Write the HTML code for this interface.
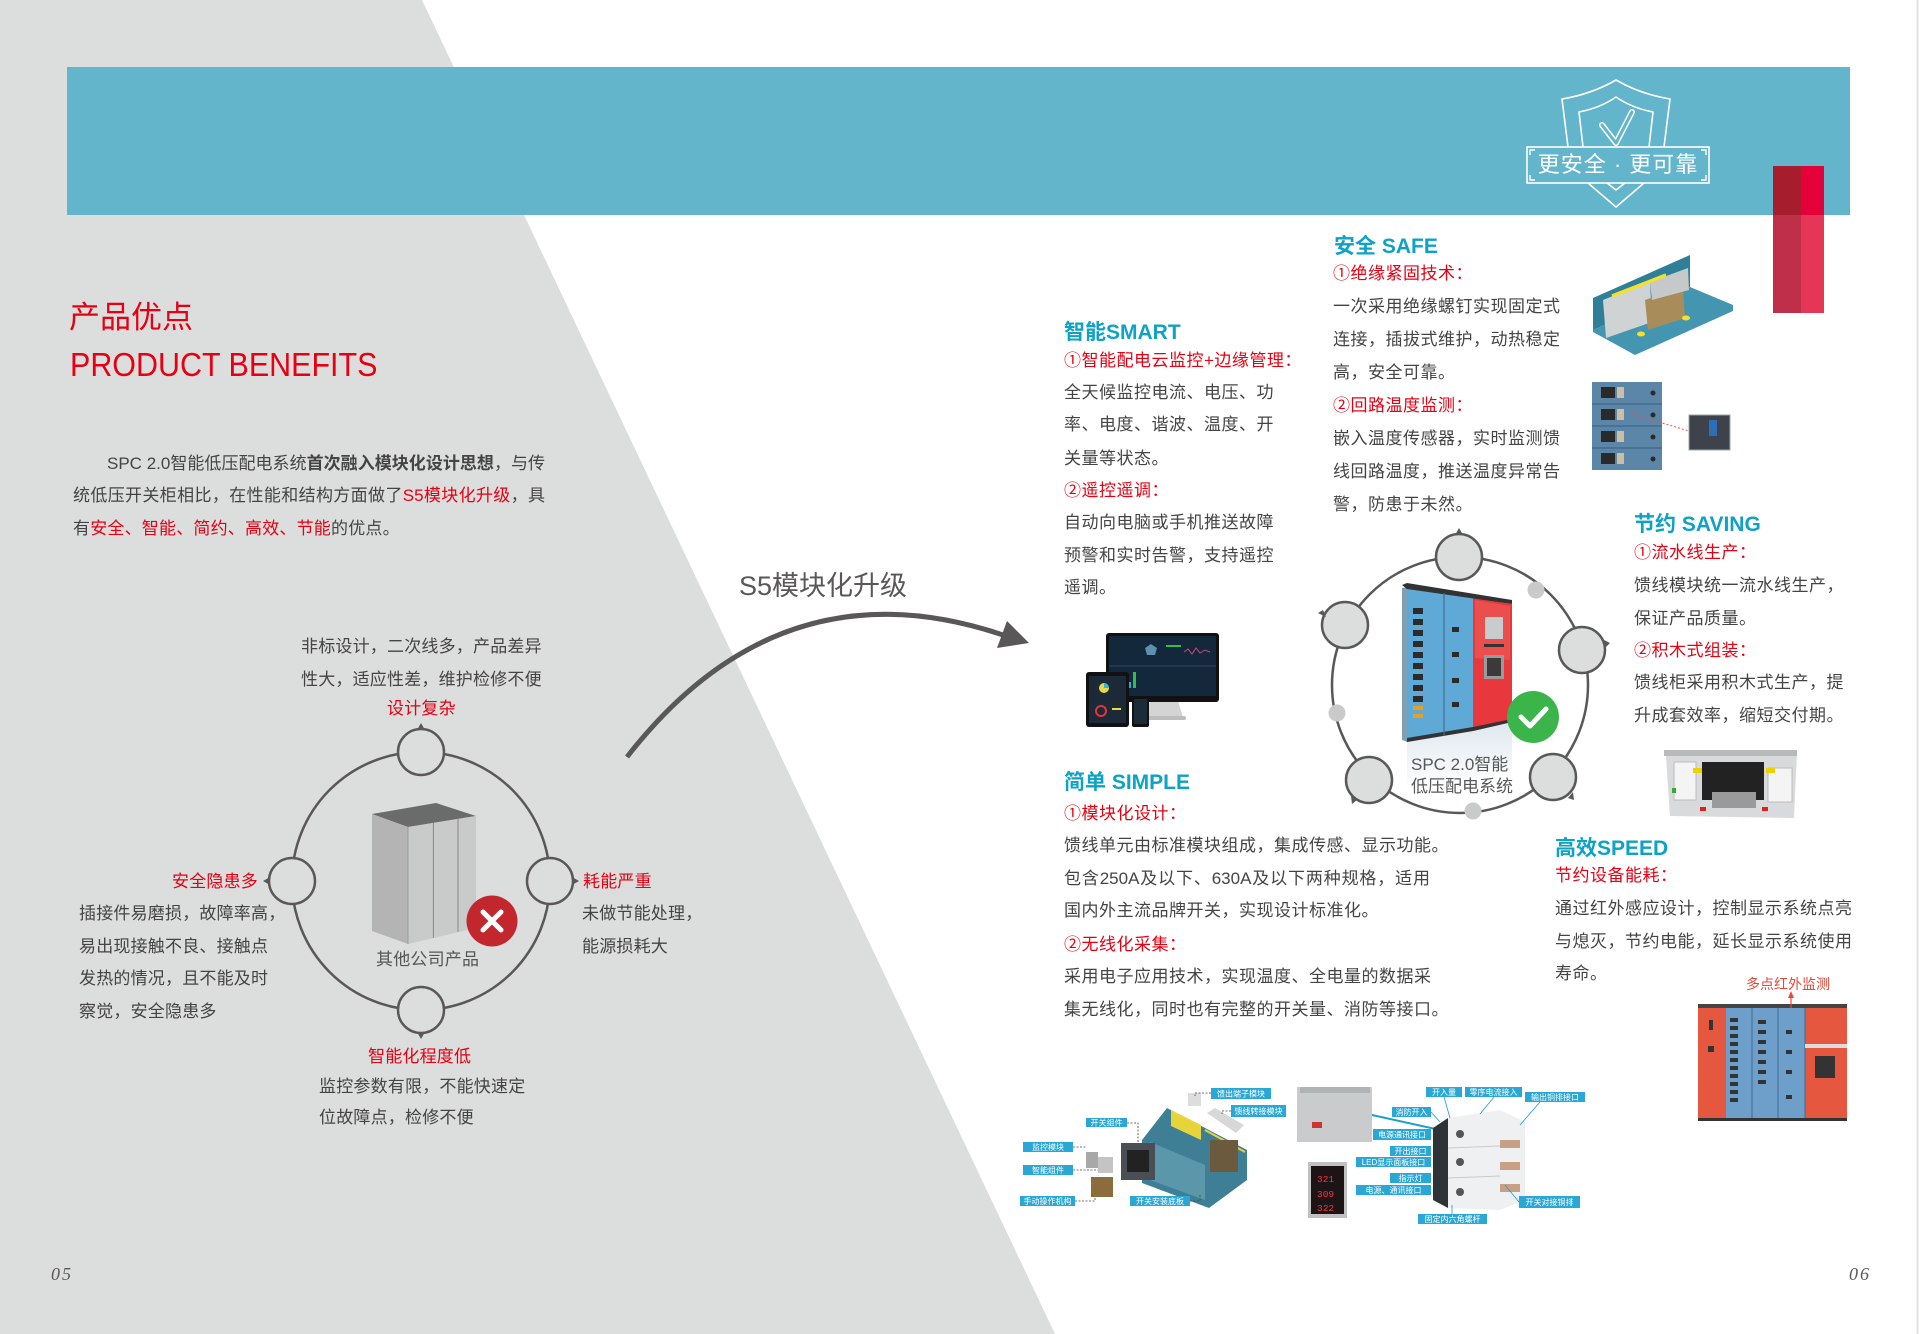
<!DOCTYPE html>
<html><head><meta charset="utf-8">
<style>
html,body{margin:0;padding:0;}
body{width:1920px;height:1334px;position:relative;overflow:hidden;background:#fff;font-family:"Liberation Sans","Noto Sans CJK SC",sans-serif;}
svg{position:absolute;left:0;top:0;}
.t{position:absolute;font-size:17px;line-height:20px;white-space:nowrap;color:#444;letter-spacing:0.5px;}
.l{letter-spacing:0.2px;}
.r{color:#e60012;}
.j{text-align:justify;text-align-last:justify;letter-spacing:0;white-space:normal;}
.h{position:absolute;font-size:21px;line-height:24px;font-weight:bold;color:#0ea2c5;white-space:nowrap;}
</style></head><body>
<svg width="1920" height="1334" viewBox="0 0 1920 1334" xmlns="http://www.w3.org/2000/svg">
<polygon points="0,0 422,0 1055,1334 0,1334" fill="#dcdddd"/>
<line x1="1917.5" y1="0" x2="1917.5" y2="1334" stroke="#e2e2e2" stroke-width="2"/>
<!-- band -->
<rect x="67" y="67" width="1783" height="148" fill="#62b5cb"/>
<!-- red bar -->
<rect x="1773" y="166" width="28" height="49" fill="#a61d2d"/>
<rect x="1801" y="166" width="23" height="49" fill="#e4013a"/>
<rect x="1773" y="215" width="28" height="98" fill="#bf2f49"/>
<rect x="1801" y="215" width="23" height="98" fill="#e53658"/>
<!-- shield -->
<g fill="none" stroke="#fff" stroke-width="1.6" stroke-linejoin="round">
<path d="M1568,147 L1562,99 Q1592,94 1616,80 Q1640,94 1670,99 L1664,147"/>
<polyline points="1588,183 1616,207 1644,183"/>
<path d="M1583,147 L1579,112 Q1600,108 1616,97 Q1632,108 1653,112 L1649,147"/>
<polyline points="1607,183 1616,190 1625,183"/>
</g>
<polyline points="1602,125 1616,143 1632,112" fill="none" stroke="#fff" stroke-width="6" stroke-linejoin="round" stroke-linecap="round"/>
<polyline points="1602,125 1616,143 1632,112" fill="none" stroke="#62b5cb" stroke-width="3" stroke-linejoin="round" stroke-linecap="round"/>
<rect x="1527" y="147" width="182" height="36" fill="#62b5cb" stroke="#fff" stroke-width="1.6"/>
<g fill="none" stroke="#fff" stroke-width="1.4">
<polyline points="1530,155 1530,150 1535,150"/>
<polyline points="1701,150 1706,150 1706,155"/>
<polyline points="1530,175 1530,180 1535,180"/>
<polyline points="1701,180 1706,180 1706,175"/>
</g>
<!-- arrow -->
<path d="M627,757 Q780,560 1003,635" fill="none" stroke="#595757" stroke-width="5"/>
<polygon points="1029,643 1007,621 997,648" fill="#595757"/>
<!-- left diagram -->
<circle cx="421" cy="881" r="129" fill="none" stroke="#595757" stroke-width="2.5"/>
<g fill="#dcdddd" stroke="#595757" stroke-width="2.5">
<circle cx="421" cy="752" r="23"/><circle cx="292" cy="881" r="23"/>
<circle cx="550" cy="881" r="23"/><circle cx="421" cy="1010" r="23"/>
</g>
<g fill="#595757">
<polygon points="417,730 425,730 421,723"/>
<polygon points="270,877 270,885 263,881"/>
<polygon points="572,877 572,885 579,881"/>
<polygon points="417,1032 425,1032 421,1039"/>
</g>
<polygon points="372,814 436,803 476,816 408,827" fill="#6b6b6b"/>
<polygon points="372,814 408,827 408,944 372,931" fill="#b4b4b5"/>
<polygon points="408,827 476,816 476,928 408,944" fill="#c9caca"/>
<line x1="433.4" y1="823" x2="433.4" y2="938" stroke="#8a8a8a"/>
<line x1="458" y1="819" x2="458" y2="932" stroke="#8a8a8a"/>
<line x1="408" y1="827" x2="408" y2="944" stroke="#999"/>
<circle cx="492" cy="921" r="25.5" fill="#c1272d"/>
<g stroke="#fff" stroke-width="5" stroke-linecap="round">
<line x1="483" y1="912" x2="501" y2="930"/><line x1="501" y1="912" x2="483" y2="930"/>
</g>
<!-- SPC diagram -->
<circle cx="1460" cy="685" r="128" fill="none" stroke="#595757" stroke-width="2.5"/>
<g fill="#dcdddd" stroke="#595757" stroke-width="2.5">
<circle cx="1459" cy="557" r="23"/><circle cx="1345" cy="625" r="23"/>
<circle cx="1582" cy="650" r="23"/><circle cx="1369" cy="780" r="23"/>
<circle cx="1553" cy="777" r="23"/>
</g>
<g fill="#c9caca">
<circle cx="1536" cy="590" r="8.5"/><circle cx="1337" cy="713" r="8.5"/><circle cx="1473" cy="811" r="8.5"/>
</g>
<g fill="#595757">
<polygon points="1455,535 1463,535 1459,528"/>
<polygon points="1323,610 1326,617 1318,613"/>
<polygon points="1604,640 1605,648 1610,643"/>
<polygon points="1351,796 1357,800 1352,804"/>
<polygon points="1568,798 1573,792 1574,800"/>
</g>
<!-- SPC cabinet -->
<defs><linearGradient id="refl" x1="0" y1="0" x2="0" y2="1"><stop offset="0" stop-color="#dfe8ee"/><stop offset="1" stop-color="#fff"/></linearGradient></defs>
<polygon points="1407,742 1473,731 1512,722 1512,770 1407,790" fill="url(#refl)"/>
<polygon points="1407,587 1473,598 1473,731 1407,742" fill="#5ea9d6"/>
<polygon points="1473,598 1512,604 1512,722 1473,731" fill="#e8383d"/>
<polygon points="1475,600 1510,606 1510,660 1475,658" fill="#ea4f4d"/>
<polygon points="1402,588 1407,587 1407,742 1402,740" fill="#7f9fb5"/>
<polygon points="1402,585 1407,583 1512,600 1512,604 1407,589" fill="#333"/>
<polygon points="1407,738 1473,727 1512,719 1512,722 1473,731 1407,742" fill="#333"/>
<line x1="1444" y1="593" x2="1444" y2="736" stroke="#3d6f92" stroke-width="1.2"/>
<g fill="#2b2b2b">
<rect x="1413" y="608" width="10" height="6"/><rect x="1413" y="619" width="10" height="6"/>
<rect x="1413" y="630" width="10" height="6"/><rect x="1413" y="641" width="10" height="6"/>
<rect x="1413" y="652" width="10" height="6"/><rect x="1413" y="663" width="10" height="6"/>
<rect x="1413" y="674" width="10" height="6"/><rect x="1413" y="685" width="10" height="6"/>
<rect x="1413" y="696" width="10" height="6"/>
<rect x="1452" y="627" width="7" height="5"/><rect x="1452" y="652" width="7" height="5"/>
<rect x="1452" y="678" width="7" height="5"/><rect x="1452" y="702" width="7" height="5"/>
</g>
<rect x="1413" y="706" width="10" height="4" fill="#e8a020"/><rect x="1413" y="714" width="10" height="4" fill="#e8a020"/>
<rect x="1485" y="617" width="18" height="22" fill="#c8cccf"/>
<rect x="1484" y="644" width="20" height="3" fill="#333"/>
<rect x="1484" y="655" width="20" height="24" fill="#9a9a9a"/>
<rect x="1487" y="658" width="14" height="18" fill="#3a3a3a"/>
<circle cx="1533" cy="717" r="26" fill="#3bb54a"/>
<polyline points="1521,717 1530,726 1546,709" fill="none" stroke="#fff" stroke-width="5" stroke-linecap="round" stroke-linejoin="round"/>
<!-- smart monitor -->
<polygon points="1150,701 1178,701 1183,717 1145,717" fill="#d4d4d4"/>
<rect x="1140" y="716" width="46" height="4" rx="2" fill="#bdbdbd"/>
<rect x="1106" y="633" width="113" height="69" rx="3" fill="#111"/>
<rect x="1109" y="636" width="107" height="60" fill="#13283a"/>
<polygon points="1145,648 1151,644 1157,648 1155,655 1147,655" fill="#5d8fb0"/>
<rect x="1166" y="645" width="15" height="2" fill="#2fbf4a"/>
<polyline points="1184,652 1188,649 1192,654 1196,648 1200,653 1205,650 1210,652" fill="none" stroke="#c44a80" stroke-width="1"/>
<line x1="1109" y1="666" x2="1216" y2="666" stroke="#2b4a63"/>
<rect x="1133" y="672" width="3" height="16" fill="#2fbf4a"/>
<rect x="1128" y="682" width="3" height="6" fill="#2aa8d8"/>
<rect x="1086" y="672" width="43" height="55" rx="3" fill="#111"/>
<rect x="1089" y="676" width="37" height="47" fill="#1b2a36"/>
<circle cx="1104" cy="688" r="5" fill="#e8d84a"/><path d="M1104,683 A5,5 0 0 1 1109,688 L1104,688Z" fill="#36b5d8"/>
<circle cx="1101" cy="711" r="5" fill="none" stroke="#e0353a" stroke-width="2"/>
<rect x="1112" y="708" width="9" height="2" fill="#e8d84a"/>
<rect x="1132" y="696" width="17" height="31" rx="2" fill="#111"/>
<rect x="1134" y="699" width="13" height="25" fill="#1c2b38"/>
<!-- safe module -->
<polygon points="1593,298 1690,255 1690,287 1593,330" fill="#2f7f99"/>
<polygon points="1593,330 1690,287 1733,305 1733,311 1635,355 1593,332" fill="#4496b0"/>
<polygon points="1603,300 1650,281 1652,322 1606,338" fill="#cfd3d4"/>
<polygon points="1645,300 1683,287 1685,318 1648,330" fill="#a88d5a"/>
<polygon points="1650,282 1688,268 1689,290 1652,300" fill="#c5c9ca"/>
<line x1="1612" y1="296" x2="1666" y2="275" stroke="#f3e12a" stroke-width="3.5"/>
<ellipse cx="1641" cy="334" rx="4" ry="2.5" fill="#f3e12a"/>
<ellipse cx="1686" cy="318" rx="4" ry="2.5" fill="#f3e12a"/>
<!-- temperature -->
<rect x="1592" y="382" width="70" height="88" fill="#5b86a8"/>
<g stroke="#3a5f80"><line x1="1592" y1="404" x2="1662" y2="404"/><line x1="1592" y1="426" x2="1662" y2="426"/><line x1="1592" y1="448" x2="1662" y2="448"/></g>
<g fill="#2a2a2a"><rect x="1601" y="387" width="14" height="11"/><rect x="1601" y="409" width="14" height="11"/><rect x="1601" y="431" width="14" height="11"/><rect x="1601" y="453" width="14" height="11"/>
<circle cx="1653" cy="393" r="2.5"/><circle cx="1653" cy="415" r="2.5"/><circle cx="1653" cy="437" r="2.5"/><circle cx="1653" cy="459" r="2.5"/></g>
<g fill="#cdbfa5"><rect x="1617" y="387" width="7" height="11"/><rect x="1617" y="409" width="7" height="11"/><rect x="1617" y="431" width="7" height="11"/><rect x="1617" y="453" width="7" height="11"/></g>
<line x1="1632" y1="414" x2="1689" y2="431" stroke="#d55" stroke-width="1" stroke-dasharray="2,2"/>
<rect x="1689" y="415" width="41" height="35" fill="#3d424b" stroke="#9aa" stroke-width="1"/>
<rect x="1709" y="420" width="8" height="16" fill="#2d6fb5"/>
<!-- saving module -->
<polygon points="1666,756 1797,751 1794,818 1670,816" fill="#d9dadb"/>
<rect x="1664" y="750" width="133" height="6" fill="#b8b9ba"/>
<rect x="1702" y="762" width="62" height="38" fill="#222"/>
<rect x="1712" y="792" width="44" height="16" fill="#9a9a9a"/>
<rect x="1674" y="762" width="22" height="38" fill="#f4f4f4" stroke="#bbb"/>
<rect x="1768" y="768" width="24" height="34" fill="#f4f4f4" stroke="#bbb"/>
<rect x="1693" y="768" width="9" height="5" fill="#f0d000"/><rect x="1766" y="768" width="9" height="5" fill="#f0d000"/>
<rect x="1700" y="807" width="6" height="4" fill="#e02020"/><rect x="1762" y="807" width="6" height="4" fill="#e02020"/>
<rect x="1672" y="788" width="4" height="5" fill="#3a3"/>
<!-- red cabinet -->
<rect x="1698" y="1004" width="149" height="4" fill="#444"/>
<rect x="1698" y="1008" width="28" height="111" fill="#e5573f"/>
<rect x="1726" y="1008" width="79" height="111" fill="#6d9fca"/>
<rect x="1805" y="1008" width="42" height="111" fill="#e5573f"/>
<g stroke="#3f6d94" stroke-width="1"><line x1="1752" y1="1008" x2="1752" y2="1119"/><line x1="1778" y1="1008" x2="1778" y2="1119"/><line x1="1805" y1="1008" x2="1805" y2="1119"/></g>
<g fill="#333">
<rect x="1730" y="1018" width="8" height="4"/><rect x="1730" y="1026" width="8" height="4"/><rect x="1730" y="1034" width="8" height="4"/><rect x="1730" y="1042" width="8" height="4"/><rect x="1730" y="1050" width="8" height="4"/><rect x="1730" y="1058" width="8" height="4"/><rect x="1730" y="1066" width="8" height="4"/><rect x="1730" y="1074" width="8" height="4"/><rect x="1730" y="1082" width="8" height="4"/><rect x="1730" y="1090" width="8" height="4"/><rect x="1730" y="1098" width="8" height="4"/>
<rect x="1758" y="1020" width="8" height="4"/><rect x="1758" y="1030" width="8" height="4"/><rect x="1758" y="1040" width="8" height="4"/><rect x="1758" y="1050" width="8" height="4"/><rect x="1758" y="1060" width="8" height="4"/><rect x="1758" y="1070" width="8" height="4"/><rect x="1758" y="1080" width="8" height="4"/>
<rect x="1786" y="1030" width="6" height="4"/><rect x="1786" y="1050" width="6" height="4"/><rect x="1786" y="1070" width="6" height="4"/><rect x="1786" y="1095" width="6" height="4"/>
<rect x="1709" y="1020" width="4" height="10"/><rect x="1708" y="1046" width="6" height="6"/>
<rect x="1815" y="1056" width="20" height="22"/>
</g>
<rect x="1805" y="1044" width="42" height="4" fill="#ddd"/>
<rect x="1698" y="1118" width="149" height="3" fill="#333"/>
<line x1="1791" y1="996" x2="1791" y2="1008" stroke="#e8483a" stroke-width="1.2"/>
<polygon points="1788,998 1794,998 1791,991" fill="#e8483a"/>
<!-- bottom left exploded -->
<polygon points="1167,1108 1247,1150 1247,1180 1209,1208 1142,1183 1142,1140" fill="#3e7f96"/>
<polygon points="1150,1142 1205,1165 1205,1200 1150,1180" fill="#5a97ab"/>
<polygon points="1171,1110 1201,1125 1201,1140 1171,1126" fill="#e6d43a"/>
<line x1="1205" y1="1130" x2="1245" y2="1152" stroke="#e6d43a" stroke-width="2"/>
<rect x="1210" y="1140" width="28" height="32" fill="#6b5a3e"/>
<rect x="1121" y="1143" width="34" height="37" fill="#4a4f55"/>
<rect x="1127" y="1150" width="22" height="22" fill="#222"/>
<rect x="1086" y="1152" width="12" height="16" fill="#a8a8a8"/>
<rect x="1098" y="1157" width="15" height="16" fill="#c4c4c4"/>
<rect x="1091" y="1177" width="22" height="20" fill="#8a6d3b"/>
<rect x="1188" y="1093" width="13" height="13" fill="#ddd"/>
<polygon points="1207,1113 1215,1108 1244,1125 1236,1133" fill="#d8d8d8"/>
<g fill="none" stroke="#444" stroke-width="0.8" stroke-dasharray="2,1.5">
<polyline points="1073,1147 1086,1147"/><polyline points="1073,1170 1098,1170"/><polyline points="1075,1201 1095,1201 1095,1197"/>
<polyline points="1127,1123 1138,1123 1138,1143"/><polyline points="1190,1201 1200,1201 1200,1195"/>
<polyline points="1211,1093 1195,1093 1195,1096"/><polyline points="1231,1111 1222,1111 1222,1114"/>
</g>
<!-- bottom right exploded -->
<rect x="1297" y="1087" width="75" height="55" fill="#c9cbcc"/>
<rect x="1300" y="1087" width="70" height="6" fill="#b0b3b4"/>
<rect x="1312" y="1122" width="10" height="6" fill="#c33"/>
<rect x="1308" y="1162" width="39" height="56" fill="#bfc0c1"/>
<rect x="1311" y="1166" width="33" height="48" fill="#1d1416"/>
<line x1="1372" y1="1115" x2="1440" y2="1130" stroke="#1a9fcf" stroke-width="2"/>
<polygon points="1448,1118 1500,1110 1525,1122 1525,1200 1500,1210 1448,1208" fill="#eef0f1"/>
<polygon points="1433,1128 1448,1118 1448,1208 1433,1200" fill="#2e3338"/>
<g stroke="#c8cacc"><line x1="1448" y1="1148" x2="1500" y2="1146"/><line x1="1448" y1="1178" x2="1500" y2="1176"/></g>
<g fill="#555"><circle cx="1460" cy="1134" r="4"/><circle cx="1460" cy="1162" r="4"/><circle cx="1460" cy="1192" r="4"/></g>
<g fill="#c99f86"><rect x="1500" y="1140" width="20" height="8"/><rect x="1500" y="1162" width="20" height="8"/><rect x="1500" y="1184" width="20" height="8"/></g>
<g fill="none" stroke="#1a9fcf" stroke-width="0.8">
<line x1="1444" y1="1097" x2="1450" y2="1118"/><line x1="1494" y1="1097" x2="1480" y2="1114"/><line x1="1540" y1="1102" x2="1520" y2="1125"/>
<line x1="1431" y1="1112" x2="1440" y2="1122"/><line x1="1519" y1="1202" x2="1505" y2="1185"/><line x1="1452" y1="1214" x2="1452" y2="1205"/>
</g>
<!-- labels -->
<g fill="#2aa7d5">
<rect x="1211" y="1088" width="60" height="11"/><rect x="1231" y="1105" width="55" height="12"/>
<rect x="1086" y="1118" width="41" height="9"/><rect x="1023" y="1142" width="50" height="10"/>
<rect x="1023" y="1165" width="50" height="10"/><rect x="1020" y="1196" width="55" height="10"/>
<rect x="1130" y="1196" width="60" height="10"/>
<rect x="1426" y="1087" width="36" height="10"/><rect x="1465" y="1087" width="57" height="10"/>
<rect x="1525" y="1092" width="60" height="10"/><rect x="1392" y="1107" width="39" height="10"/>
<rect x="1373" y="1129" width="58" height="11"/><rect x="1390" y="1146" width="41" height="10"/>
<rect x="1356" y="1157" width="75" height="10"/><rect x="1390" y="1173" width="41" height="10"/>
<rect x="1356" y="1185" width="75" height="10"/><rect x="1519" y="1196" width="61" height="12"/>
<rect x="1418" y="1214" width="69" height="10"/>
</g>
<g fill="#fff" font-size="8" text-anchor="middle" font-family="Liberation Sans, Noto Sans CJK SC, sans-serif">
<text x="1241" y="1096.5">馈出端子模块</text><text x="1258.5" y="1114">馈线转接模块</text>
<text x="1106.5" y="1125.5">开关组件</text><text x="1048" y="1150">监控模块</text>
<text x="1048" y="1173">智能组件</text><text x="1047.5" y="1204">手动操作机构</text>
<text x="1160" y="1204">开关安装底板</text>
<text x="1444" y="1095">开入量</text><text x="1493.5" y="1095">零序电流接入</text>
<text x="1555" y="1100">输出铜排接口</text><text x="1411.5" y="1115">消防开入</text>
<text x="1402" y="1137.5">电源通讯接口</text><text x="1410.5" y="1154">开出接口</text>
<text x="1393.5" y="1165">LED显示面板接口</text><text x="1410.5" y="1181">指示灯</text>
<text x="1393.5" y="1193">电源、通讯接口</text><text x="1549.5" y="1205">开关对接铜排</text>
<text x="1452.5" y="1222">固定内六角螺杆</text>
</g>
<g fill="#ff3040" font-size="9.5" font-family="Liberation Mono, monospace">
<text x="1317" y="1182">321</text><text x="1317" y="1197">309</text><text x="1317" y="1211">322</text>
</g>
</svg>

<!-- left page text -->
<div style="position:absolute;left:69px;top:300px;font-size:31px;line-height:36px;color:#e60012;white-space:nowrap;">产品优点</div>
<div style="position:absolute;left:70px;top:348px;font-size:33px;line-height:33px;color:#e60012;white-space:nowrap;transform:scaleX(0.923);transform-origin:0 0;">PRODUCT BENEFITS</div>

<div class="t j" style="left:107px;top:454px;width:438px;">SPC 2.0智能低压配电系统<b>首次融入模块化设计思想</b>，与传</div>
<div class="t j" style="left:73px;top:486px;width:472px;">统低压开关柜相比，在性能和结构方面做了<span class="r">S5模块化升级</span>，具</div>
<div class="t l" style="left:73px;top:519px;">有<span class="r">安全、智能、简约、高效、节能</span>的优点。</div>

<div style="position:absolute;left:739px;top:570px;font-size:27px;line-height:32px;color:#595757;white-space:nowrap;">S5模块化升级</div>

<div class="t l" style="left:301px;top:637px;">非标设计，二次线多，产品差异</div>
<div class="t l" style="left:301px;top:670px;">性大，适应性差，维护检修不便</div>
<div class="t l r" style="left:387px;top:699px;">设计复杂</div>
<div class="t l r" style="left:172px;top:872px;">安全隐患多</div>
<div class="t l" style="left:79px;top:904px;">插接件易磨损，故障率高，</div>
<div class="t l" style="left:79px;top:937px;">易出现接触不良、接触点</div>
<div class="t l" style="left:79px;top:969px;">发热的情况，且不能及时</div>
<div class="t l" style="left:79px;top:1002px;">察觉，安全隐患多</div>
<div class="t l r" style="left:583px;top:872px;">耗能严重</div>
<div class="t l" style="left:582px;top:904px;">未做节能处理，</div>
<div class="t l" style="left:582px;top:937px;">能源损耗大</div>
<div class="t l" style="left:376px;top:950px;color:#555;">其他公司产品</div>
<div class="t l r" style="left:368px;top:1047px;">智能化程度低</div>
<div class="t l" style="left:319px;top:1077px;">监控参数有限，不能快速定</div>
<div class="t l" style="left:319px;top:1108px;">位故障点，检修不便</div>
<div style="position:absolute;left:51px;top:1262px;font-family:'Liberation Serif',serif;font-style:italic;font-size:18px;line-height:24px;letter-spacing:2px;color:#595757;">05</div>

<!-- banner label -->
<div style="position:absolute;left:1527px;top:151px;width:182px;text-align:center;font-size:22px;line-height:28px;color:#fff;white-space:nowrap;letter-spacing:1px;">更安全 · 更可靠</div>

<!-- SAFE -->
<div class="h" style="left:1334px;top:235px;">安全 SAFE</div>
<div class="t r" style="left:1333px;top:264px;">①绝缘紧固技术：</div>
<div class="t" style="left:1333px;top:297px;">一次采用绝缘螺钉实现固定式</div>
<div class="t" style="left:1333px;top:330px;">连接，插拔式维护，动热稳定</div>
<div class="t" style="left:1333px;top:363px;">高，安全可靠。</div>
<div class="t r" style="left:1333px;top:396px;">②回路温度监测：</div>
<div class="t" style="left:1333px;top:429px;">嵌入温度传感器，实时监测馈</div>
<div class="t" style="left:1333px;top:462px;">线回路温度，推送温度异常告</div>
<div class="t" style="left:1333px;top:495px;">警，防患于未然。</div>

<!-- SMART -->
<div class="h" style="left:1064px;top:321px;">智能SMART</div>
<div class="t r" style="left:1064px;top:351px;">①智能配电云监控+边缘管理：</div>
<div class="t" style="left:1064px;top:383px;">全天候监控电流、电压、功</div>
<div class="t" style="left:1064px;top:415px;">率、电度、谐波、温度、开</div>
<div class="t" style="left:1064px;top:449px;">关量等状态。</div>
<div class="t r" style="left:1064px;top:481px;">②遥控遥调：</div>
<div class="t" style="left:1064px;top:513px;">自动向电脑或手机推送故障</div>
<div class="t" style="left:1064px;top:546px;">预警和实时告警，支持遥控</div>
<div class="t" style="left:1064px;top:578px;">遥调。</div>

<!-- SAVING -->
<div class="h" style="left:1634px;top:513px;">节约 SAVING</div>
<div class="t r" style="left:1634px;top:543px;">①流水线生产：</div>
<div class="t" style="left:1634px;top:576px;">馈线模块统一流水线生产，</div>
<div class="t" style="left:1634px;top:609px;">保证产品质量。</div>
<div class="t r" style="left:1634px;top:641px;">②积木式组装：</div>
<div class="t" style="left:1634px;top:673px;">馈线柜采用积木式生产，提</div>
<div class="t" style="left:1634px;top:706px;">升成套效率，缩短交付期。</div>

<!-- SPC label -->
<div class="t" style="left:1411px;top:755px;color:#595757;letter-spacing:0;">SPC 2.0智能</div>
<div class="t" style="left:1411px;top:777px;color:#595757;letter-spacing:0;">低压配电系统</div>

<!-- SIMPLE -->
<div class="h" style="left:1064px;top:771px;">简单 SIMPLE</div>
<div class="t r" style="left:1064px;top:804px;">①模块化设计：</div>
<div class="t" style="left:1064px;top:836px;">馈线单元由标准模块组成，集成传感、显示功能。</div>
<div class="t j" style="left:1064px;top:869px;width:366px;">包含250A及以下、630A及以下两种规格，适用</div>
<div class="t" style="left:1064px;top:901px;">国内外主流品牌开关，实现设计标准化。</div>
<div class="t r" style="left:1064px;top:935px;">②无线化采集：</div>
<div class="t" style="left:1064px;top:967px;">采用电子应用技术，实现温度、全电量的数据采</div>
<div class="t" style="left:1064px;top:1000px;">集无线化，同时也有完整的开关量、消防等接口。</div>

<!-- SPEED -->
<div class="h" style="left:1555px;top:837px;">高效SPEED</div>
<div class="t r" style="left:1555px;top:866px;">节约设备能耗：</div>
<div class="t" style="left:1555px;top:899px;">通过红外感应设计，控制显示系统点亮</div>
<div class="t" style="left:1555px;top:932px;">与熄灭，节约电能，延长显示系统使用</div>
<div class="t" style="left:1555px;top:964px;">寿命。</div>
<div style="position:absolute;left:1746px;top:975px;font-size:14px;line-height:18px;color:#e8483a;white-space:nowrap;">多点红外监测</div>

<div style="position:absolute;left:1849px;top:1262px;font-family:'Liberation Serif',serif;font-style:italic;font-size:18px;line-height:24px;letter-spacing:2px;color:#595757;">06</div>
</body></html>
